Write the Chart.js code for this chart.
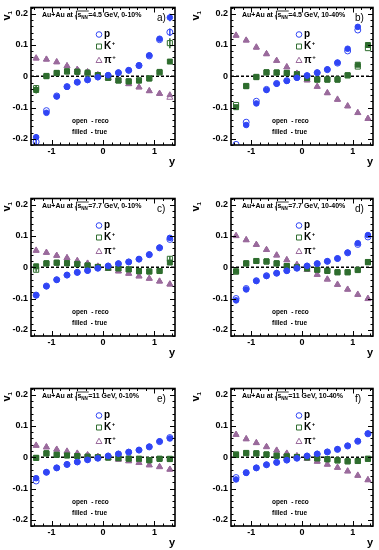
<!DOCTYPE html>
<html>
<head>
<meta charset="utf-8">
<script src="https://cdn.jsdelivr.net/npm/chart.js@4.4.1/dist/chart.umd.min.js"></script>
<style>
html, body { margin: 0; padding: 0; background: #fff; overflow: hidden; width: 379px; height: 550px; }
canvas { position: absolute; }
</style>
</head>
<body>
<canvas id="panelA" width="189" height="175" style="left:0;top:0"></canvas>
<canvas id="panelB" width="190" height="175" style="left:189px;top:0"></canvas>
<canvas id="panelC" width="189" height="175" style="left:0;top:191px"></canvas>
<canvas id="panelD" width="190" height="175" style="left:189px;top:191px"></canvas>
<canvas id="panelE" width="189" height="175" style="left:0;top:381px"></canvas>
<canvas id="panelF" width="190" height="175" style="left:189px;top:381px"></canvas>
<script>
// rapidity bins (x values)
const rapidity = [-1.3, -1.1, -0.9, -0.7, -0.5, -0.3, -0.1, 0.1, 0.3, 0.5, 0.7, 0.9, 1.1, 1.3];
const xTicks = [-1, 0, 1];
const yTicks = [-0.2, -0.1, 0, 0.1, 0.2];

// a) 4.5 GeV, 0-10%
const pTrueA  = [-0.195, -0.117, -0.065, -0.034, -0.019, -0.012, -0.003, 0.003, 0.012, 0.019, 0.035, 0.067, 0.120, 0.188];
const pRecoA  = [-0.210, -0.110, -0.063, -0.033, -0.019, -0.011, -0.002, 0.003, 0.011, 0.019, 0.034, 0.065, 0.117, 0.141];
const kTrueA  = [-0.044, 0.000, 0.011, 0.016, 0.015, 0.012, 0.004, -0.005, -0.014, -0.017, -0.014, -0.007, 0.014, 0.047];
const kRecoA  = [-0.038, 0.001, 0.010, 0.015, 0.014, 0.008, 0.003, -0.005, -0.013, -0.016, -0.013, -0.007, 0.012, 0.106];
const piTrueA = [0.057, 0.054, 0.045, 0.033, 0.022, 0.014, 0.004, -0.006, -0.013, -0.025, -0.035, -0.047, -0.055, -0.060];
const piRecoA = [0.058, 0.054, 0.046, 0.033, 0.021, 0.013, 0.004, -0.006, -0.014, -0.024, -0.035, -0.047, -0.056, -0.068];
// visible error bars (half length), 0 = hidden under marker
const pErrA   = [0.010, 0.004, 0, 0, 0, 0, 0, 0, 0, 0, 0, 0, 0.004, 0.012];
const pRecoErrA = [0.010, 0, 0, 0, 0, 0, 0, 0, 0, 0, 0, 0, 0, 0.012];
const kErrA   = [0.011, 0, 0, 0, 0, 0, 0, 0, 0, 0, 0, 0, 0, 0.007];
const kRecoErrA = [0.010, 0, 0, 0, 0, 0, 0, 0, 0, 0, 0, 0, 0, 0.016];

// b) 4.5 GeV, 10-40%
const pTrueB  = [null, -0.156, -0.087, -0.044, -0.024, -0.015, -0.005, 0.002, 0.012, 0.022, 0.044, 0.088, 0.158, null];
const pRecoB  = [-0.218, -0.147, -0.080, -0.042, -0.023, -0.014, -0.004, 0.002, 0.011, 0.021, 0.042, 0.081, 0.148, null];
const kTrueB  = [-0.099, -0.032, -0.003, 0.013, 0.012, 0.011, 0.006, -0.006, -0.011, -0.011, -0.011, 0.003, 0.037, 0.100];
const kRecoB  = [-0.092, -0.031, -0.002, 0.012, 0.012, 0.010, 0.007, -0.006, -0.010, -0.010, -0.010, 0.003, 0.031, 0.090];
const piTrueB = [0.130, 0.115, 0.092, 0.072, 0.050, 0.030, 0.008, -0.013, -0.033, -0.054, -0.075, -0.096, -0.117, -0.135];
const piRecoB = [0.131, 0.115, 0.093, 0.071, 0.050, 0.029, 0.009, -0.012, -0.033, -0.053, -0.074, -0.095, -0.117, -0.136];
const pErrB   = [0, 0.004, 0.003, 0, 0, 0, 0, 0, 0, 0, 0, 0.004, 0.006, 0];

// c) 7.7 GeV, 0-10%
const pTrueC  = [-0.090, -0.061, -0.040, -0.025, -0.017, -0.011, -0.003, 0.004, 0.012, 0.017, 0.026, 0.041, 0.063, 0.094];
const pRecoC  = [-0.089, -0.060, -0.040, -0.025, -0.016, -0.010, -0.003, 0.004, 0.011, 0.017, 0.026, 0.040, 0.062, 0.089];
const kTrueC  = [0.003, 0.013, 0.015, 0.013, 0.011, 0.006, 0.001, -0.002, -0.004, -0.007, -0.013, -0.014, -0.012, 0.015];
const kRecoC  = [-0.008, 0.012, 0.014, 0.013, 0.010, 0.006, 0.001, -0.002, -0.004, -0.007, -0.012, -0.013, -0.012, 0.027];
const piTrueC = [0.053, 0.047, 0.038, 0.030, 0.020, 0.013, 0.003, -0.004, -0.013, -0.020, -0.028, -0.036, -0.045, -0.055];
const piRecoC = [0.054, 0.047, 0.037, 0.030, 0.021, 0.012, 0.003, -0.004, -0.012, -0.020, -0.029, -0.036, -0.045, -0.054];
const kRecoErrC = [0.006, 0, 0, 0, 0, 0, 0, 0, 0, 0, 0, 0, 0, 0.008];

// d) 7.7 GeV, 10-40%
const pTrueD  = [-0.106, -0.071, -0.044, -0.028, -0.019, -0.011, -0.003, 0.004, 0.012, 0.019, 0.028, 0.047, 0.077, 0.103];
const pRecoD  = [-0.100, -0.068, -0.043, -0.027, -0.019, -0.011, -0.003, 0.004, 0.011, 0.019, 0.028, 0.046, 0.073, 0.097];
const kTrueD  = [-0.013, 0.013, 0.020, 0.019, 0.013, 0.004, 0.000, -0.004, -0.008, -0.012, -0.016, -0.016, -0.008, 0.017];
const kRecoD  = [-0.014, 0.012, 0.020, 0.018, 0.012, 0.004, 0.001, -0.004, -0.008, -0.011, -0.016, -0.016, -0.009, 0.016];
const piTrueD = [0.100, 0.088, 0.073, 0.056, 0.039, 0.024, 0.008, -0.007, -0.024, -0.038, -0.056, -0.071, -0.088, -0.100];
const piRecoD = [0.101, 0.087, 0.072, 0.056, 0.038, 0.023, 0.008, -0.008, -0.023, -0.039, -0.055, -0.071, -0.087, -0.101];

// e) 11 GeV, 0-10%
const pTrueE  = [-0.067, -0.048, -0.034, -0.023, -0.015, -0.008, -0.003, 0.004, 0.011, 0.017, 0.023, 0.034, 0.051, 0.060];
const pRecoE  = [-0.076, -0.048, -0.034, -0.023, -0.015, -0.008, -0.003, 0.004, 0.010, 0.016, 0.023, 0.033, 0.050, 0.063];
const kTrueE  = [-0.002, 0.013, 0.008, 0.006, 0.004, 0.002, 0.000, -0.001, -0.003, -0.005, -0.005, -0.010, -0.005, -0.006];
const kRecoE  = [-0.002, 0.012, 0.008, 0.006, 0.004, 0.002, 0.000, -0.001, -0.003, -0.004, -0.005, -0.009, -0.005, -0.005];
const piTrueE = [0.037, 0.033, 0.025, 0.018, 0.013, 0.007, 0.002, -0.002, -0.007, -0.012, -0.018, -0.025, -0.030, -0.039];
const piRecoE = [0.038, 0.032, 0.025, 0.019, 0.012, 0.007, 0.002, -0.002, -0.007, -0.012, -0.017, -0.025, -0.031, -0.039];
const pErrE   = [0.006, 0, 0, 0, 0, 0, 0, 0, 0, 0, 0, 0, 0, 0.007];

// f) 11 GeV, 10-40%
const pTrueF  = [-0.071, -0.050, -0.034, -0.024, -0.017, -0.009, -0.003, 0.004, 0.011, 0.017, 0.026, 0.037, 0.052, 0.076];
const pRecoF  = [-0.065, -0.049, -0.034, -0.024, -0.016, -0.009, -0.003, 0.004, 0.010, 0.017, 0.025, 0.036, 0.051, 0.075];
const kTrueF  = [0.008, 0.014, 0.013, 0.009, 0.005, 0.003, 0.001, -0.001, -0.004, -0.007, -0.010, -0.013, -0.012, -0.005];
const kRecoF  = [0.009, 0.013, 0.012, 0.009, 0.005, 0.003, 0.001, -0.001, -0.004, -0.006, -0.010, -0.013, -0.012, -0.005];
const piTrueF = [0.073, 0.059, 0.046, 0.034, 0.022, 0.013, 0.004, -0.004, -0.014, -0.023, -0.033, -0.044, -0.059, -0.072];
const piRecoF = [0.072, 0.058, 0.046, 0.033, 0.022, 0.012, 0.004, -0.004, -0.013, -0.023, -0.033, -0.045, -0.058, -0.073];
const pErrF   = [0.005, 0, 0, 0, 0, 0, 0, 0, 0, 0, 0, 0, 0, 0.005];

const BLUE = "#3045f5";
const GREEN = "#2e6d2e";
const PURPLE = "#9a6a9c";
const FONT = '"Liberation Sans", Arial, sans-serif';

function series(vals, errs) {
    return rapidity.map((r, i) => ({ x: r, y: vals[i], err: errs ? errs[i] : 0 })).filter(p => p.y !== null);
}

function marker(ctx, style, x, y, color, filled) {
    ctx.save();
    ctx.strokeStyle = color;
    ctx.fillStyle = color;
    ctx.lineWidth = 1;
    ctx.beginPath();
    if (style === "circle") {
        ctx.arc(x, y, 2.8, 0, Math.PI * 2);
    } else if (style === "rect") {
        ctx.rect(x - 2.5, y - 2.5, 5, 5);
    } else {
        ctx.moveTo(x, y - 3.3);
        ctx.lineTo(x + 3, y + 2);
        ctx.lineTo(x - 3, y + 2);
        ctx.closePath();
    }
    if (filled) ctx.fill(); else ctx.stroke();
    ctx.restore();
}

const panelDeco = {
    id: "panelDeco",
    beforeDatasetsDraw(chart) {
        const { ctx, chartArea: a, scales: { x, y } } = chart;
        const y0 = y.getPixelForValue(0);
        ctx.save();
        ctx.strokeStyle = "#000";
        ctx.lineWidth = 1.5;
        ctx.setLineDash([3, 2]);
        ctx.beginPath();
        ctx.moveTo(a.left, y0);
        ctx.lineTo(a.right, y0);
        ctx.stroke();
        ctx.setLineDash([]);
        // error bars
        ctx.lineWidth = 1.5;
        chart.data.datasets.forEach(ds => {
            ctx.strokeStyle = ds.borderColor;
            ctx.beginPath();
            ds.data.forEach(pt => {
                if (!pt.err) return;
                const px = x.getPixelForValue(pt.x);
                ctx.moveTo(px, Math.max(a.top, y.getPixelForValue(pt.y + pt.err)));
                ctx.lineTo(px, Math.min(a.bottom, y.getPixelForValue(pt.y - pt.err)));
            });
            ctx.stroke();
        });
        ctx.restore();
    },
    afterDraw(chart, args, opts) {
        const { ctx, chartArea: a, scales: { x, y } } = chart;
        ctx.save();
        // frame
        ctx.strokeStyle = "#000";
        ctx.lineWidth = 1.6;
        ctx.strokeRect(a.left, a.top, a.right - a.left, a.bottom - a.top);

        // inward ticks on all four sides
        ctx.lineWidth = 1;
        ctx.beginPath();
        for (let k = -9; k <= 9; k++) {
            const v = k / 6;
            if (Math.abs(v) > 1.4) continue;
            const px = Math.round(x.getPixelForValue(v)) + 0.5;
            const len = k % 6 === 0 ? 5 : 2.5;
            ctx.moveTo(px, a.bottom); ctx.lineTo(px, a.bottom - len);
            ctx.moveTo(px, a.top); ctx.lineTo(px, a.top + len);
        }
        for (let k = -11; k <= 11; k++) {
            const v = k * 0.02;
            const py = Math.round(y.getPixelForValue(v)) + 0.5;
            const len = k % 5 === 0 ? 5 : 2.5;
            ctx.moveTo(a.left, py); ctx.lineTo(a.left + len, py);
            ctx.moveTo(a.right, py); ctx.lineTo(a.right - len, py);
        }
        ctx.stroke();

        ctx.fillStyle = "#000";
        ctx.textBaseline = "middle";

        // header: Au+Au at sqrt(s_NN)=... GeV, centrality
        let hx = a.left + 11;
        const hy = a.top + 8;
        ctx.font = "bold 7px " + FONT;
        ctx.textAlign = "left";
        ctx.fillText("Au+Au at ", hx, hy);
        hx += ctx.measureText("Au+Au at ").width;
        const sW = ctx.measureText("s").width;
        ctx.font = "bold 4.5px " + FONT;
        const nnW = ctx.measureText("NN").width;
        ctx.lineWidth = 0.8;
        ctx.beginPath();
        ctx.moveTo(hx, hy + 0.5);
        ctx.lineTo(hx + 0.8, hy);
        ctx.lineTo(hx + 1.6, hy + 4);
        ctx.lineTo(hx + 1.6, hy - 4.5);
        ctx.lineTo(hx + 3 + sW + nnW + 0.5, hy - 4.5);
        ctx.stroke();
        hx += 2.6;
        ctx.font = "bold 7px " + FONT;
        ctx.fillText("s", hx, hy);
        hx += sW;
        ctx.font = "bold 4.5px " + FONT;
        ctx.fillText("NN", hx, hy + 2.2);
        hx += nnW + 0.3;
        ctx.font = "bold 7px " + FONT;
        ctx.fillText("=" + opts.energy + " GeV, " + opts.cent, hx, hy);

        // panel tag
        ctx.font = "10px " + FONT;
        ctx.fillText(opts.tag, a.right - 18, a.top + 11);

        // legend
        const lx = a.left + 68;
        const rows = [
            { style: "circle", color: BLUE, name: "p", sup: "" },
            { style: "rect", color: GREEN, name: "K", sup: "+" },
            { style: "triangle", color: PURPLE, name: "\u03c0", sup: "+" }
        ];
        const rowY = [27, 39, 53];
        rows.forEach((r, i) => {
            const ry = a.top + rowY[i];
            marker(ctx, r.style, lx, ry, r.color, false);
            ctx.fillStyle = "#000";
            ctx.font = "bold 10px " + FONT;
            ctx.fillText(r.name, lx + 5, ry);
            if (r.sup) {
                const w = ctx.measureText(r.name).width;
                ctx.font = "bold 6px " + FONT;
                ctx.fillText(r.sup, lx + 5 + w + 0.5, ry - 3);
            }
        });

        // open / filled note
        ctx.font = "bold 6.5px " + FONT;
        ctx.fillText("open  - reco", a.left + 41, a.top + 114);
        ctx.fillText("filled  - true", a.left + 41, a.top + 124.5);

        // axis titles
        ctx.font = "bold 11px " + FONT;
        ctx.textAlign = "right";
        ctx.fillText("y", a.right, a.bottom + 17);

        ctx.save();
        ctx.translate(7, a.top + 13);
        ctx.rotate(-Math.PI / 2);
        ctx.textAlign = "left";
        ctx.font = "bold 11px " + FONT;
        ctx.fillText("v", 0, 0);
        const vw = ctx.measureText("v").width;
        ctx.font = "bold 6px " + FONT;
        ctx.fillText("1", vw, 3);
        ctx.restore();

        ctx.restore();
    }
};

function makePanel(id, yAxisWidth, padRight, tag, energy, cent, sets, errs) {
    const ctx = document.getElementById(id).getContext("2d");
    const open = "rgba(0,0,0,0)";
    const e = errs || {};
    new Chart(ctx, {
        type: "scatter",
        data: {
            datasets: [
                { data: series(sets[0], e.pT), pointStyle: "circle", pointRadius: 2.8, backgroundColor: BLUE, borderColor: BLUE, borderWidth: 1 },
                { data: series(sets[2], e.kT), pointStyle: "rect", pointRadius: 3.5, backgroundColor: GREEN, borderColor: GREEN, borderWidth: 1 },
                { data: series(sets[4], e.piT), pointStyle: "triangle", pointRadius: 3.3, backgroundColor: PURPLE, borderColor: PURPLE, borderWidth: 1 },
                { data: series(sets[1], e.pR), pointStyle: "circle", pointRadius: 3, backgroundColor: open, borderColor: BLUE, borderWidth: 1 },
                { data: series(sets[3], e.kR), pointStyle: "rect", pointRadius: 3.6, backgroundColor: open, borderColor: GREEN, borderWidth: 1 },
                { data: series(sets[5], e.piR), pointStyle: "triangle", pointRadius: 3.5, backgroundColor: open, borderColor: PURPLE, borderWidth: 1 }
            ]
        },
        options: {
            responsive: false,
            animation: false,
            devicePixelRatio: 1,
            layout: { padding: { top: 5, right: padRight, bottom: 0, left: 0 } },
            plugins: {
                legend: { display: false },
                tooltip: { enabled: false },
                panelDeco: { tag: tag, energy: energy, cent: cent }
            },
            scales: {
                x: {
                    type: "linear",
                    min: -1.4,
                    max: 1.4,
                    afterFit: s => { s.height = 30; },
                    afterBuildTicks: s => { s.ticks = xTicks.map(v => ({ value: v })); },
                    grid: { display: false, drawTicks: false },
                    border: { display: false },
                    ticks: {
                        padding: 2,
                        color: "#000",
                        font: { family: FONT, size: 9, weight: "bold", lineHeight: 1 },
                        callback: v => (v < 0 ? "-" : "") + Math.abs(v)
                    }
                },
                y: {
                    min: -0.22,
                    max: 0.22,
                    afterFit: s => { s.width = yAxisWidth; },
                    afterBuildTicks: s => { s.ticks = yTicks.map(v => ({ value: v })); },
                    grid: { display: false, drawTicks: false },
                    border: { display: false },
                    ticks: {
                        padding: 3,
                        color: "#000",
                        font: { family: FONT, size: 9, weight: "bold", lineHeight: 1 },
                        callback: v => v === 0 ? "0" : (v < 0 ? "-" : "") + Math.abs(v).toFixed(1)
                    }
                }
            }
        },
        plugins: [panelDeco]
    });
}

makePanel("panelA", 31, 14, "a)", "4.5", "0-10%", [pTrueA, pRecoA, kTrueA, kRecoA, piTrueA, piRecoA],
    { pT: pErrA, pR: pRecoErrA, kT: kErrA, kR: kRecoErrA });
makePanel("panelB", 42, 6, "b)", "4.5", "10-40%", [pTrueB, pRecoB, kTrueB, kRecoB, piTrueB, piRecoB],
    { pT: pErrB });
makePanel("panelC", 31, 14, "c)", "7.7", "0-10%", [pTrueC, pRecoC, kTrueC, kRecoC, piTrueC, piRecoC],
    { kR: kRecoErrC });
makePanel("panelD", 42, 6, "d)", "7.7", "10-40%", [pTrueD, pRecoD, kTrueD, kRecoD, piTrueD, piRecoD]);
makePanel("panelE", 31, 14, "e)", "11", "0-10%", [pTrueE, pRecoE, kTrueE, kRecoE, piTrueE, piRecoE],
    { pT: pErrE });
makePanel("panelF", 42, 6, "f)", "11", "10-40%", [pTrueF, pRecoF, kTrueF, kRecoF, piTrueF, piRecoF],
    { pT: pErrF });
</script>
</body>
</html>
